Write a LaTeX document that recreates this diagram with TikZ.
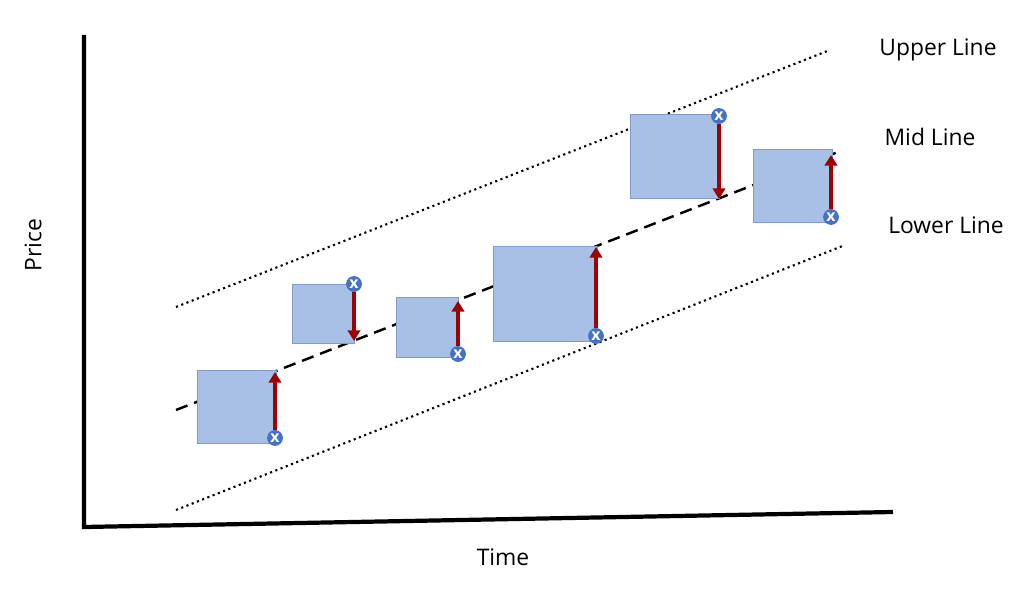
\documentclass[tikz,border=0pt]{standalone}
\usepackage{fontspec}
\setmainfont{Open Sans}
\usetikzlibrary{arrows.meta}
\tikzset{>={Triangle[width=7pt,length=6pt]}}
\definecolor{boxblue}{HTML}{A9C0E6}
\definecolor{boxedge}{HTML}{7F9BD0}
\definecolor{markblue}{HTML}{4472C4}
\definecolor{arrowred}{HTML}{A00000}
\tikzset{
  candle/.style={draw=boxedge, fill=boxblue, line width=0.5pt},
  mark x/.style={circle, fill=markblue, inner sep=0pt, minimum size=9pt,
    text=white, font=\bfseries\fontsize{9}{9}\selectfont},
  pull/.style={->, draw=arrowred, line width=1.8pt},
  label txt/.style={font=\fontsize{13}{15}\selectfont}
}
\begin{document}
\begin{tikzpicture}[x=0.02cm, y=-0.02cm]
  \useasboundingbox (0,0) rectangle (1024,604);

  % axes
  \draw[line width=2.4pt] (84,35) -- (84,527) -- (893,512);
  \node[label txt, rotate=90] (price) at (33,245) {Price};
  \node[label txt] (time) at (503,557) {Time};

  % channel lines
  \draw[dotted, line width=1.2pt] (176,307) -- (830,50);
  \draw[dashed, line width=1.4pt, dash pattern=on 7pt off 4pt] (176,410) -- (838,152);
  \draw[dotted, line width=1.2pt] (176,510) -- (845,245);
  \node[label txt] (upper) at (938,50) {Upper Line};
  \node[label txt] (mid) at (930,137) {Mid Line};
  \node[label txt] (lower) at (946,225) {Lower Line};

  % boxes
  \draw[candle] (197,370) rectangle (276,443);
  \draw[candle] (292,284) rectangle (354,343);
  \draw[candle] (396,297) rectangle (458,357);
  \draw[candle] (493,246) rectangle (597,341);
  \draw[candle] (630,114) rectangle (719,198);
  \draw[candle] (753,149) rectangle (832,222);

  % points on the mid line
  \coordinate (m1) at (275,372);
  \coordinate (m2) at (354,341);
  \coordinate (m3) at (458,301);
  \coordinate (m4) at (596,247);
  \coordinate (m5) at (719,199);
  \coordinate (m6) at (831,155);

  % price marks
  \node[mark x] (p1) at (275,438) {x};
  \node[mark x] (p2) at (354,284) {x};
  \node[mark x] (p3) at (458,354) {x};
  \node[mark x] (p4) at (596,336) {x};
  \node[mark x] (p5) at (719,116) {x};
  \node[mark x] (p6) at (831,217) {x};

  \draw[pull] (p1) -- (m1);
  \draw[pull] (p2) -- (m2);
  \draw[pull] (p3) -- (m3);
  \draw[pull] (p4) -- (m4);
  \draw[pull] (p5) -- (m5);
  \draw[pull] (p6) -- (m6);
\end{tikzpicture}
\end{document}
